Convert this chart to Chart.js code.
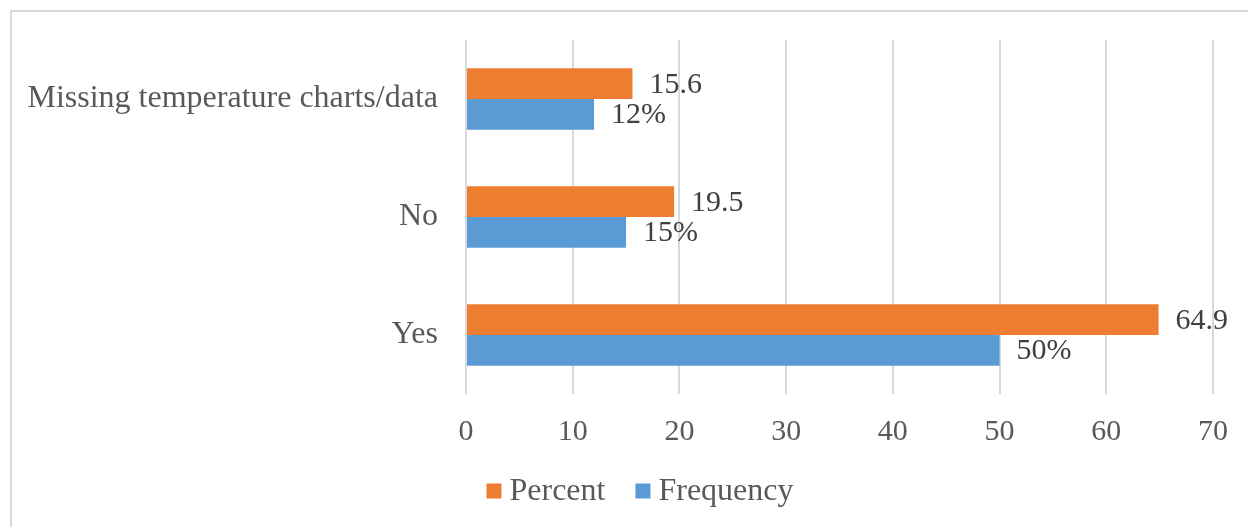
<!DOCTYPE html>
<html>
<head>
<meta charset="utf-8">
<script src="https://cdn.jsdelivr.net/npm/chart.js@4/dist/chart.umd.min.js"></script>
<style>
  html, body { margin: 0; padding: 0; background: #ffffff; overflow: hidden; }
  #wrap { position: relative; width: 1248px; height: 527px; }
  #frame {
    position: absolute; left: 10px; top: 10px; width: 1300px; height: 600px;
    border-top: 2px solid #d9d9d9; border-left: 2px solid #d9d9d9;
  }
  #chart { position: absolute; left: 0; top: 0; }
</style>
</head>
<body>
<div id="wrap">
  <div id="frame"></div>
  <canvas id="chart" width="1248" height="527"></canvas>
</div>
<script>
const categories = ['Missing temperature charts/data', 'No', 'Yes'];
const percentValues = [15.6, 19.5, 64.9];
const frequencyValues = [12, 15, 50];
const xTicks = [0, 10, 20, 30, 40, 50, 60, 70];

const FONT = "'Liberation Serif', 'Times New Roman', serif";

// Writes each bar's value just past its end.
const valueLabels = {
  id: 'valueLabels',
  afterDatasetsDraw(chart) {
    const ctx = chart.ctx;
    ctx.save();
    ctx.font = '30px ' + FONT;
    ctx.fillStyle = '#404040';
    ctx.textAlign = 'left';
    ctx.textBaseline = 'middle';
    chart.data.datasets.forEach((ds, di) => {
      const meta = chart.getDatasetMeta(di);
      meta.data.forEach((bar, i) => {
        const v = ds.data[i];
        const text = ds.suffix ? v + ds.suffix : String(v);
        ctx.fillText(text, bar.x + 17, bar.y + 1);
      });
    });
    ctx.restore();
  }
};

// Legend row under the axis: square swatch, short gap, series name.
const bottomLegend = {
  id: 'bottomLegend',
  afterDraw(chart) {
    const ctx = chart.ctx;
    const box = 15, gapText = 8, gapItem = 30, cy = 491;
    ctx.save();
    ctx.font = '32px ' + FONT;
    ctx.textBaseline = 'middle';
    ctx.textAlign = 'left';
    const items = chart.data.datasets.map(ds => ({
      label: ds.label, color: ds.backgroundColor, w: ctx.measureText(ds.label).width
    }));
    const total = items.reduce((s, it) => s + box + gapText + it.w, 0) + gapItem * (items.length - 1);
    let x = 640 - total / 2;
    items.forEach(it => {
      ctx.fillStyle = it.color;
      ctx.fillRect(x, cy - box / 2, box, box);
      x += box + gapText;
      ctx.fillStyle = '#595959';
      ctx.fillText(it.label, x, cy + 1);
      x += it.w + gapItem;
    });
    ctx.restore();
  }
};

new Chart(document.getElementById('chart'), {
  type: 'bar',
  data: {
    labels: categories,
    datasets: [
      {
        label: 'Percent',
        data: percentValues,
        backgroundColor: '#ED7D31',
        suffix: ''
      },
      {
        label: 'Frequency',
        data: frequencyValues,
        backgroundColor: '#5B9BD5',
        suffix: '%'
      }
    ]
  },
  options: {
    indexAxis: 'y',
    responsive: false,
    animation: false,
    events: [],
    categoryPercentage: 0.52,
    barPercentage: 1.0,
    layout: { padding: { top: 40, right: 35, bottom: 63, left: 0 } },
    scales: {
      x: {
        min: 0,
        max: 70,
        afterBuildTicks(scale) { scale.ticks = xTicks.map(v => ({ value: v })); },
        afterFit(scale) { scale.height = 70; },
        grid: { color: '#d9d9d9', lineWidth: 2, drawTicks: false },
        border: { display: false },
        ticks: {
          color: '#595959',
          font: { family: FONT, size: 30 },
          padding: 20
        }
      },
      y: {
        afterFit(scale) {
          scale.width = 466;
          scale.paddingTop = 0;
          scale.paddingBottom = 0;
        },
        grid: { display: false, drawTicks: false },
        border: { display: false },
        ticks: {
          color: '#595959',
          font: { family: FONT, size: 32 },
          padding: 28
        }
      }
    },
    plugins: {
      legend: { display: false },
      tooltip: { enabled: false }
    }
  },
  plugins: [valueLabels, bottomLegend]
});
</script>
</body>
</html>
